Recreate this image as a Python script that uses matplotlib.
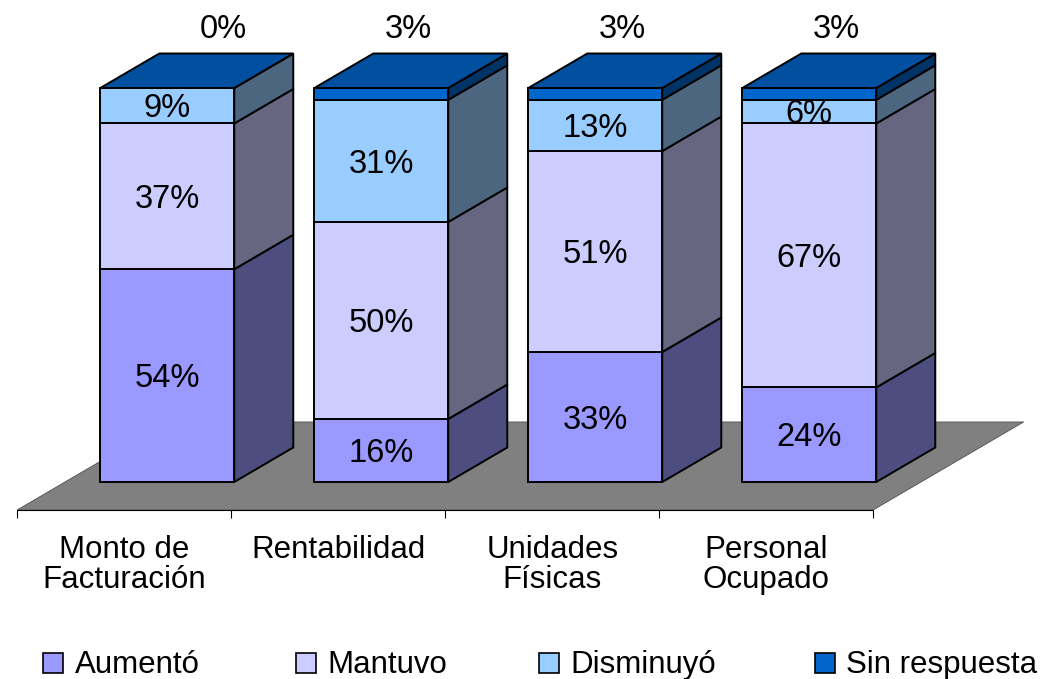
import matplotlib
matplotlib.use("Agg")
import matplotlib.pyplot as plt
from matplotlib.patches import Polygon, Rectangle
from matplotlib.colors import to_rgb

# ---------------- data ----------------
categories = ["Monto de\nFacturación", "Rentabilidad", "Unidades\nFísicas", "Personal\nOcupado"]
series_names = ["Aumentó", "Mantuvo", "Disminuyó", "Sin respuesta"]
aumento = [54, 16, 33, 24]
mantuvo = [37, 50, 51, 67]
disminuyo = [9, 31, 13, 6]
sin_respuesta = [0, 3, 3, 3]
front_colors = ["#9999FF", "#CCCCFF", "#99CCFF", "#0066CC"]

series = [aumento, mantuvo, disminuyo, sin_respuesta]

plt.rcParams['font.family'] = ['Liberation Sans', 'DejaVu Sans']

W, H = 1051, 679
fig = plt.figure(figsize=(W / 100, H / 100), dpi=100)
ax = fig.add_axes([0, 0, 1, 1])

# scale of the category / percent axes (pixels per unit) and origin
PX_CAT, PX_PCT = 214.0, 3.94
X0, Y0 = 65.0, 482.0
ax.set_xlim(-X0 / PX_CAT, (W - X0) / PX_CAT)
ax.set_ylim(-(H - Y0) / PX_PCT, Y0 / PX_PCT)
ax.axis('off')


def px2x(p):
    return (p - X0) / PX_CAT


def px2y(p):
    return (Y0 - p) / PX_PCT


# depth (3-D) offset of one bar depth, in axis units
DX = 59.0 / PX_CAT
DY = 34.5 / PX_PCT
D_FRONT, D_BACK = -0.81, 1.74   # floor extent in bar-depth units
BAR_OFF, BAR_W = 0.165, 0.626
n = len(categories)
EDGE_LW = 1.4
LABEL_FS = 23.5
HALF_DIGIT = LABEL_FS * 100 / 72 * 0.716 / 2 / PX_PCT   # half digit height, in percent units


def shade(c, f):
    r, g, b = to_rgb(c)
    return (r * f, g * f, b * f)


# ---------------- floor ----------------
floor = Polygon([(D_FRONT * DX, D_FRONT * DY), (n + D_FRONT * DX, D_FRONT * DY),
                 (n + D_BACK * DX, D_BACK * DY), (D_BACK * DX, D_BACK * DY)],
                closed=True, facecolor="#808080", edgecolor="#505050", lw=0.6, zorder=1)
ax.add_patch(floor)

# category axis line and ticks
ax.plot([D_FRONT * DX, n + D_FRONT * DX], [D_FRONT * DY, D_FRONT * DY],
        color="black", lw=0.8, zorder=2, solid_capstyle='butt')
for i in range(n + 1):
    ax.plot([i + D_FRONT * DX] * 2, [D_FRONT * DY, D_FRONT * DY - 8 / PX_PCT],
            color="black", lw=0.8, zorder=2, solid_capstyle='butt')

# ---------------- bars ----------------
for i in range(n):
    x0 = i + BAR_OFF
    x1 = x0 + BAR_W
    bottom = 0.0
    for s, vals in enumerate(series):
        v = vals[i]
        top = bottom + v
        col = front_colors[s]
        # front face
        ax.add_patch(Polygon([(x0, bottom), (x1, bottom), (x1, top), (x0, top)], closed=True,
                             facecolor=col, edgecolor="black", lw=EDGE_LW, zorder=3,
                             joinstyle='miter'))
        # side face
        ax.add_patch(Polygon([(x1, bottom), (x1 + DX, bottom + DY), (x1 + DX, top + DY), (x1, top)],
                             closed=True, facecolor=shade(col, 0.5), edgecolor="black",
                             lw=EDGE_LW, zorder=3, joinstyle='miter'))
        if s == len(series) - 1:
            # top face
            ax.add_patch(Polygon([(x0, top), (x1, top), (x1 + DX, top + DY), (x0 + DX, top + DY)],
                                 closed=True, facecolor=shade(col, 0.78), edgecolor="black",
                                 lw=EDGE_LW, zorder=3, joinstyle='miter'))
            frac = 0.95 if v == 0 else 0.45
            ax.text((x0 + x1) / 2 + frac * DX, top + DY + 4.0, f"{v}%",
                    ha='center', va='baseline', fontsize=LABEL_FS, color='black', zorder=5)
        else:
            ax.text((x0 + x1) / 2, (bottom + top) / 2 - HALF_DIGIT, f"{v}%",
                    ha='center', va='baseline', fontsize=LABEL_FS, color='black', zorder=5)
        bottom = top

# ---------------- category labels ----------------
for i, lab in enumerate(categories):
    ax.text(i + 0.5 + D_FRONT * DX, px2y(535), lab, ha='center', va='top',
            fontsize=22.5, linespacing=1.0, color='black')

# ---------------- legend ----------------
leg_square_px = [43, 296, 539, 815]
leg_text_px = [75, 327, 570, 846]
for s, name in enumerate(series_names):
    ax.add_patch(Rectangle((px2x(leg_square_px[s]), px2y(673)), 20 / PX_CAT, 20 / PX_PCT,
                           facecolor=front_colors[s], edgecolor='black', lw=1.2, zorder=5))
    ax.text(px2x(leg_text_px[s]), px2y(673), name, ha='left', va='baseline',
            fontsize=22.5, color='black')

fig.savefig("out.png", dpi=100)
